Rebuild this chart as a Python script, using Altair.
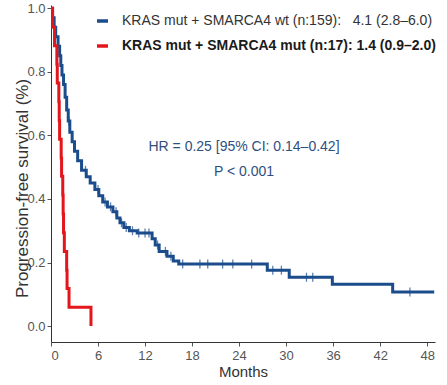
import altair as alt
import pandas as pd
import numpy as np

# KRAS mut + SMARCA4 wt (blue) Kaplan-Meier steps
blue_t = [0, 0.2, 0.4, 0.6, 0.9, 1.1, 1.25, 1.4, 1.6, 1.8, 2.0, 2.2, 2.4, 2.7, 3.0, 3.4,
          3.9, 4.5, 5.0, 5.6, 6.1, 6.6, 7.2, 7.9, 8.4, 8.8, 9.3, 10.0, 11.0, 12.9, 13.3,
          13.8, 14.8, 15.6, 16.3, 27.6, 30.4, 35.9, 43.6, 48.9]
blue_s = [1.0, 0.97, 0.94, 0.91, 0.88, 0.85, 0.82, 0.79, 0.76, 0.72, 0.68, 0.645, 0.61,
          0.58, 0.55, 0.52, 0.49, 0.47, 0.45, 0.43, 0.41, 0.39, 0.375, 0.36, 0.34, 0.325,
          0.31, 0.30, 0.293, 0.275, 0.255, 0.235, 0.22, 0.205, 0.195, 0.176, 0.154, 0.132,
          0.107, 0.107]
blue_censor = [2.3, 4.4, 6.0, 6.9, 7.6, 8.3, 9.0, 9.6, 10.4, 11.2, 12.0, 12.5, 13.6, 14.6,
               15.3, 16.8, 19.0, 20.0, 21.9, 23.2, 25.6, 28.3, 29.4, 32.6, 33.4, 45.8]

# KRAS mut + SMARCA4 mut (red)
red_t = [0, 0.2, 0.45, 0.75, 0.8, 1.0, 1.05, 1.1, 1.3, 1.35, 1.5, 1.55, 1.6, 1.7, 2.0,
         2.05, 2.3, 5.1]
red_s = [1.0, 0.941, 0.882, 0.824, 0.765, 0.706, 0.647, 0.588, 0.529, 0.471, 0.412,
         0.353, 0.294, 0.235, 0.176, 0.118, 0.059, 0.0]

x_ticks = [0, 6, 12, 18, 24, 30, 36, 42, 48]
y_ticks = [0.0, 0.2, 0.4, 0.6, 0.8, 1.0]

NB = "\u00a0"
legend_lines = ["KRAS mut + SMARCA4 wt (n:159):" + NB * 3 + "4.1 (2.8\u20136.0)",
                "KRAS mut + SMARCA4 mut (n:17): 1.4 (0.9\u20132.0)"]
hr_text = "HR = 0.25 [95% CI: 0.14\u20130.42]"
p_text = "P < 0.001"

BLUE = "#1b4c8c"
RED = "#e3161c"
NARROW = "Liberation Sans Narrow, Arial Narrow, Liberation Sans, Arial"

blue_df = pd.DataFrame({"t": blue_t, "s": blue_s})
red_df = pd.DataFrame({"t": red_t, "s": red_s})
idx = np.searchsorted(np.array(blue_t), np.array(blue_censor), side="right") - 1
cens_df = pd.DataFrame({"t": blue_censor, "s": np.array(blue_s)[idx]})

xs = alt.Scale(domain=[0, 49], nice=False, zero=False)
ys = alt.Scale(domain=[-0.05, 1.01], nice=False, zero=False)

xax = alt.Axis(values=x_ticks, title="Months", grid=False, labelFont=NARROW, labelFontSize=13,
               labelColor="#555555", titleFont=NARROW, titleFontSize=15, titleColor="#333333",
               titleFontWeight="normal", domainColor="#333333", tickColor="#555555", tickSize=4,
               labelPadding=3, titlePadding=2)
yax = alt.Axis(values=y_ticks, format=".1f", title="Progression-free survival (%)", grid=False,
               labelFont=NARROW, labelFontSize=13, labelColor="#555555",
               titleFont="Liberation Sans, Arial", titleFontSize=17, titleColor="#333333",
               titleFontWeight="normal", domainColor="#333333", tickColor="#555555", tickSize=4,
               labelPadding=2, titleX=-29, titleY=183, titleAngle=-90, titleBaseline="middle",
               titleAlign="center")

blue_line = alt.Chart(blue_df).mark_line(interpolate="step-after", color=BLUE, strokeWidth=3).encode(
    x=alt.X("t:Q", scale=xs, axis=xax),
    y=alt.Y("s:Q", scale=ys, axis=yax),
)
red_line = alt.Chart(red_df).mark_line(interpolate="step-after", color=RED, strokeWidth=3).encode(
    x=alt.X("t:Q", scale=xs),
    y=alt.Y("s:Q", scale=ys),
)
cens = alt.Chart(cens_df).mark_tick(orient="vertical", color=BLUE, thickness=1.3, size=9).encode(
    x=alt.X("t:Q", scale=xs),
    y=alt.Y("s:Q", scale=ys),
)

one = alt.Data(values=[{"a": 1}])

def seg(color, y):
    return alt.Chart(one).mark_rule(color=color, strokeWidth=3.5).encode(
        x=alt.value(46), x2=alt.value(57), y=alt.value(y))

def txt(s, x, y, color, weight="normal", size=14, align="left"):
    return alt.Chart(one).mark_text(align=align, baseline="middle", font="Liberation Sans, Arial",
                                    fontSize=size, fontWeight=weight, color=color).encode(
        x=alt.value(x), y=alt.value(y), text=alt.value(s))

annot = [
    seg(BLUE, 16), seg(RED, 41),
    txt(legend_lines[0], 71, 16, "#333333"),
    txt(legend_lines[1], 71, 41, "#1a1a1a", weight="bold"),
    txt(hr_text, 193, 142, "#2f4f7f", align="center"),
    txt(p_text, 193, 167, "#2f4f7f", align="center"),
]

chart = alt.layer(blue_line, red_line, cens, *annot).properties(
    width=384, height=337,
    autosize=alt.AutoSizeParams(type="none"),
    padding={"left": 51, "top": 5, "right": 12, "bottom": 43},
    background="white",
).configure_view(stroke=None)

chart.save("out.html", embed_options={"renderer": "svg", "actions": False})
